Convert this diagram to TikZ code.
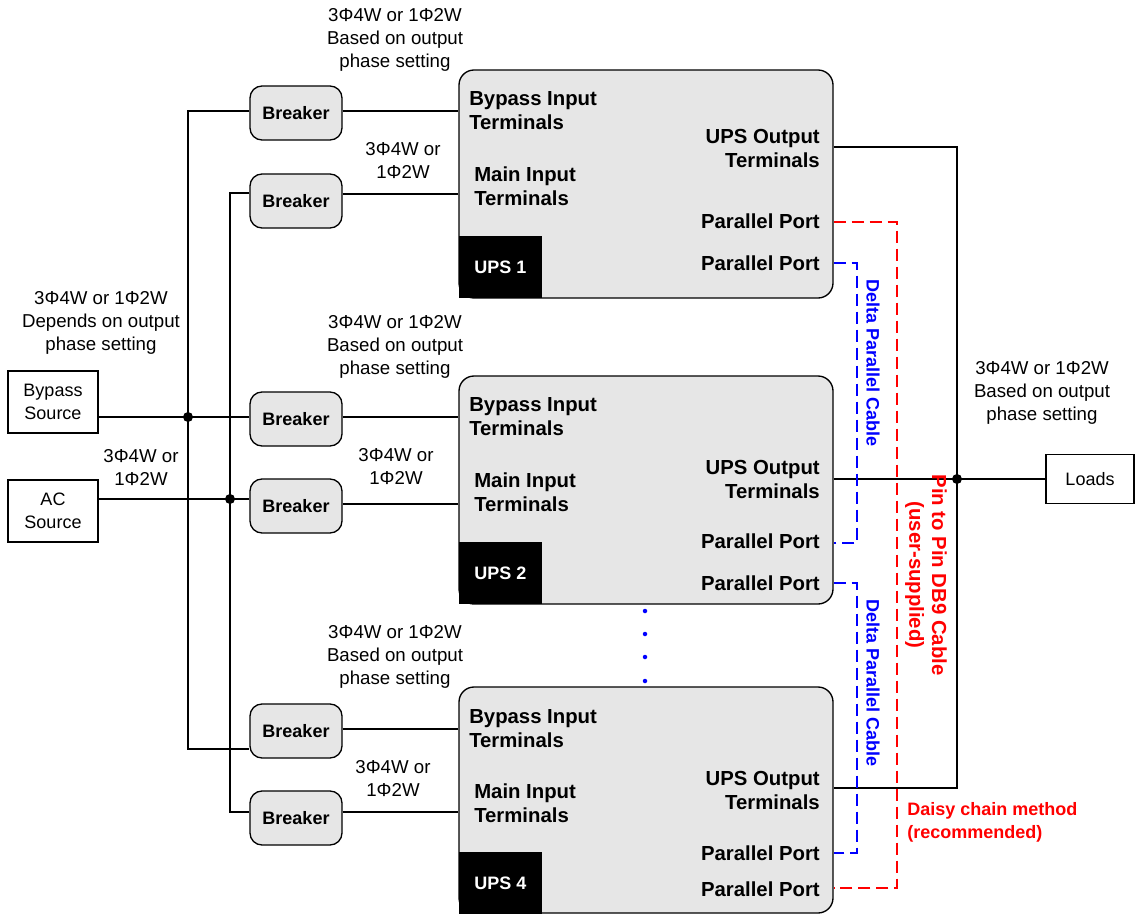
\documentclass[tikz,border=0pt]{standalone}
\usepackage{fontspec}
\setmainfont{Liberation Sans}
\newlength\pxu \setlength\pxu{0.75pt}
\definecolor{boxgray}{RGB}{230,230,230}
\definecolor{cred}{RGB}{255,0,0}
\definecolor{cblue}{RGB}{0,0,255}
\tikzset{
  x=0.75pt, y=-0.75pt,
  txt/.style={font=\fontsize{14}{17.25}\selectfont, inner sep=0pt, align=center},
  btxt/.style={font=\fontsize{13.5}{17.25}\selectfont\bfseries, inner sep=0pt},
  utxt/.style={font=\fontsize{15.25}{18}\selectfont\bfseries, inner sep=0pt},
  wire/.style={line width=1pt, black},
  upsbox/.style={draw, line width=1pt, fill=boxgray, rounded corners=15\pxu, minimum width=374\pxu, inner sep=0pt},
  blackbox/.style={fill=black, draw=none, minimum width=83\pxu, minimum height=62\pxu, inner sep=0pt, text=white, font=\fontsize{13.5}{17.25}\selectfont\bfseries},
  breaker/.style={draw, line width=1pt, fill=boxgray, rounded corners=12\pxu, minimum width=92\pxu, minimum height=54\pxu, inner sep=0pt, font=\fontsize{13.5}{17.25}\selectfont\bfseries},
  srcbox/.style={draw, line width=1pt, minimum width=90\pxu, minimum height=62\pxu, inner sep=0pt, align=center, font=\fontsize{13.5}{17.25}\selectfont},
  reddash/.style={cred, line width=1pt, dash pattern=on 12\pxu off 6\pxu},
  bluedash/.style={cblue, line width=1pt, dash pattern=on 12\pxu off 6\pxu},
  jdot/.style={circle, fill=black, inner sep=0pt, minimum size=10\pxu},
  bdot/.style={circle, fill=cblue, inner sep=0pt, minimum size=4.5\pxu},
}
\begin{document}
\begin{tikzpicture}
\useasboundingbox (0,0) rectangle (1138,914);

% UPS boxes
\node[upsbox, minimum height=228\pxu] (u1) at (646,184) {};
\node[upsbox, minimum height=228\pxu] (u2) at (646,490) {};
\node[upsbox, minimum height=226\pxu] (u4) at (646,800) {};
\node[blackbox] (k1) at (500.5,267) {UPS 1};
\node[blackbox] (k2) at (500.5,573) {UPS 2};
\node[blackbox] (k4) at (500.5,883) {UPS 4};

% UPS texts
\node[utxt, anchor=west, align=left] (bi1) at (469,111) {Bypass Input\\Terminals};
\node[utxt, anchor=west, align=left] (bi2) at (469,417) {Bypass Input\\Terminals};
\node[utxt, anchor=west, align=left] (bi4) at (469,729) {Bypass Input\\Terminals};
\node[utxt, anchor=west, align=left] (mi1) at (474,186) {Main Input\\Terminals};
\node[utxt, anchor=west, align=left] (mi2) at (474,492) {Main Input\\Terminals};
\node[utxt, anchor=west, align=left] (mi4) at (474,803) {Main Input\\Terminals};
\node[utxt, anchor=east, align=right] (uo1) at (820,148) {UPS Output\\Terminals};
\node[utxt, anchor=east, align=right] (uo2) at (820,479) {UPS Output\\Terminals};
\node[utxt, anchor=east, align=right] (uo4) at (820,790) {UPS Output\\Terminals};
\node[utxt, anchor=east] (pa1) at (820,221) {Parallel Port};
\node[utxt, anchor=east] (pb1) at (820,263) {Parallel Port};
\node[utxt, anchor=east] (pa2) at (820,541) {Parallel Port};
\node[utxt, anchor=east] (pb2) at (820,583) {Parallel Port};
\node[utxt, anchor=east] (pa4) at (820,853) {Parallel Port};
\node[utxt, anchor=east] (pb4) at (820,889) {Parallel Port};

% Breakers
\node[breaker] (b1) at (296,113) {Breaker};
\node[breaker] (b2) at (296,201) {Breaker};
\node[breaker] (b3) at (296,419) {Breaker};
\node[breaker] (b4) at (296,506) {Breaker};
\node[breaker] (b5) at (296,731) {Breaker};
\node[breaker] (b6) at (296,818) {Breaker};

% Sources and loads
\node[srcbox] (bs) at (53,402) {Bypass\\Source};
\node[srcbox] (ac) at (53,511) {AC\\Source};
\node[srcbox, minimum width=88\pxu, minimum height=49\pxu] (ld) at (1090,479) {Loads};

% Bus coordinates
\coordinate (bpT) at (188,111);
\coordinate (bpB) at (188,749);
\coordinate (acT) at (230,193);
\coordinate (acB) at (230,812);
\coordinate (outT) at (957,147);
\coordinate (outB) at (957,788);

% Left wiring
\draw[wire] (b1.west |- bpT) -- (bpT) -- (bpB) -- (b5.west |- bpB);
\draw[wire] (b2.west |- acT) -- (acT) -- (acB) -- (b6.west |- acB);
\draw[wire] (bs.east |- 0,417) -- (b3.west |- 0,417);
\draw[wire] (ac.east |- 0,499) -- (b4.west |- 0,499);
\node[jdot] (j1) at (188,417) {};
\node[jdot] (j2) at (230,499) {};

% Breaker to UPS
\draw[wire] (b1.east |- 0,111) -- (u1.west |- 0,111);
\draw[wire] (b2.east |- 0,194) -- (u1.west |- 0,194);
\draw[wire] (b3.east |- 0,417) -- (u2.west |- 0,417);
\draw[wire] (b4.east |- 0,504) -- (u2.west |- 0,504);
\draw[wire] (b5.east |- 0,729) -- (u4.west |- 0,729);
\draw[wire] (b6.east |- 0,812) -- (u4.west |- 0,812);

% Output wiring
\draw[wire] (u1.east |- outT) -- (outT) -- (outB) -- (u4.east |- outB);
\draw[wire] (u2.east |- 0,479) -- (ld.west);
\node[jdot] (j3) at (957,479) {};

% Parallel cables
\draw[reddash] (u1.east |- 0,222) -- (897,222) -- (897,888) -- (u4.east |- 0,888);
\draw[bluedash] (u1.east |- 0,263) -- (857,263) -- (857,543) -- (u2.east |- 0,543);
\draw[bluedash] (u2.east |- 0,583) -- (857,583) -- (857,853) -- (u4.east |- 0,853);

% Blue dots
\foreach \yy in {611,634,657,681} { \node[bdot] at (645,\yy) {}; }

% Labels
\node[txt] (l1) at (395,40) {3Φ4W or 1Φ2W\\Based on output\\phase setting};
\node[txt] (l2) at (395,347) {3Φ4W or 1Φ2W\\Based on output\\phase setting};
\node[txt] (l3) at (395,657) {3Φ4W or 1Φ2W\\Based on output\\phase setting};
\node[txt] (l4) at (403,161) {3Φ4W or\\1Φ2W};
\node[txt] (l5) at (396,467) {3Φ4W or\\1Φ2W};
\node[txt] (l6) at (393,779) {3Φ4W or\\1Φ2W};
\node[txt] (l7) at (101,323) {3Φ4W or 1Φ2W\\Depends on output\\phase setting};
\node[txt] (l8) at (141,468) {3Φ4W or\\1Φ2W};
\node[txt] (l9) at (1042,393) {3Φ4W or 1Φ2W\\Based on output\\phase setting};

\node[btxt, text=cblue, rotate=-90] (dc1) at (873,363) {Delta Parallel Cable};
\node[btxt, text=cblue, rotate=-90] (dc2) at (873,683) {Delta Parallel Cable};
\node[font=\fontsize{15.25}{17}\selectfont\bfseries, inner sep=0pt, text=cred, rotate=-90, align=center] (pp) at (926,575) {Pin to Pin DB9 Cable\\(user-supplied)};
\node[btxt, text=cred, anchor=west, align=left] (dm) at (907,822) {Daisy chain method\\(recommended)};
\end{tikzpicture}
\end{document}
